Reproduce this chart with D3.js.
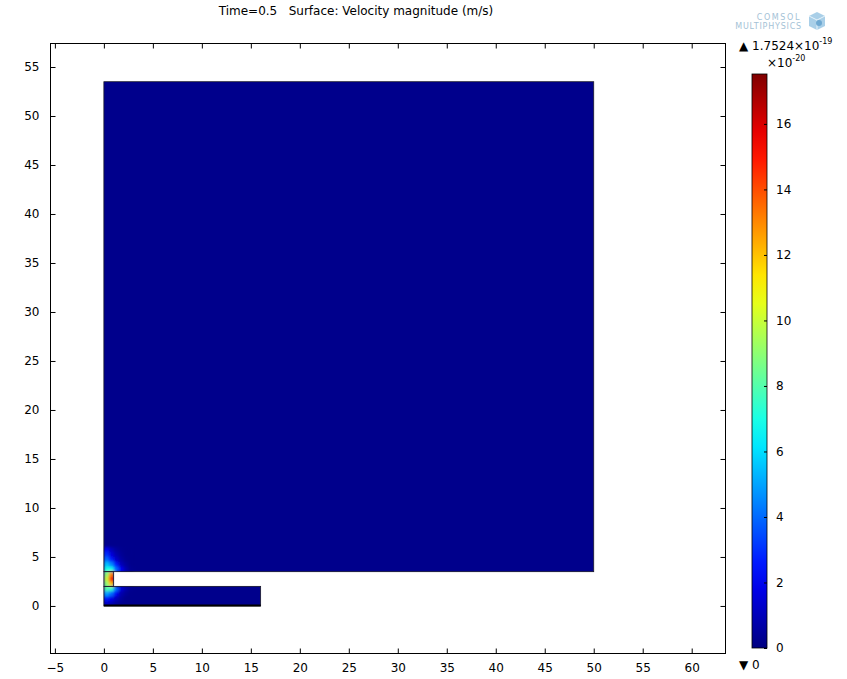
<!DOCTYPE html>
<html><head><meta charset="utf-8">
<script src="https://cdn.jsdelivr.net/npm/d3@7"></script>
<style>
body{margin:0;background:#fff;}
text{font-family:"DejaVu Sans",sans-serif;white-space:pre;}
</style></head>
<body>
<svg id="chart" width="847" height="679"></svg>
<script>
// ---------------- data ----------------
const title = "Time=0.5\u00A0\u00A0\u00A0Surface: Velocity magnitude (m/s)";
const xTicks = [-5,0,5,10,15,20,25,30,35,40,45,50,55,60];
const yTicks = [0,5,10,15,20,25,30,35,40,45,50,55];
const cbTicks = [0,2,4,6,8,10,12,14,16];
const cbMax = 17.524;           // ×10^-20
const cbMaxLabel = "1.7524";
const baseValue = 0.2;          // background velocity (×10^-20)
// geometry (m): [x0, y0, x1, y1]
const domains = [
  [0, 3.5, 50, 53.5],   // chamber
  [0, 2, 1, 3.5],       // connector
  [0, 0, 16, 2]         // channel
];
// hot-spot cells near the junction, 0.5 m cells
const cellSize = 0.5;
const cellX = [0, 0.5, 1, 1.5, 2, 2.5];
const cellRows = [
  {y:5.5, v:[2.0,1.0,0.5,0.3,0.2,0.2]},
  {y:5.0, v:[3.0,1.6,0.8,0.4,0.2,0.2]},
  {y:4.5, v:[4.0,2.6,1.3,0.6,0.3,0.2]},
  {y:4.0, v:[5.5,4.5,2.5,1.0,0.5,0.2]},
  {y:3.5, v:[7.0,7.0,4.0,2.0,0.8,0.3]},
  {y:3.0, v:[9,13,null,null,null,null]},
  {y:2.5, v:[10,15,null,null,null,null]},
  {y:2.0, v:[9,12,null,null,null,null]},
  {y:1.5, v:[8.0,7.5,4.0,1.5,0.7,0.3]},
  {y:1.0, v:[5.0,4.0,2.0,0.8,0.4,0.2]},
  {y:0.5, v:[2.5,1.8,1.0,0.5,0.2,0.2]},
  {y:0.0, v:[1.2,0.9,0.5,0.3,0.2,0.2]}
];

// ---------------- scales ----------------
const svg = d3.select("#chart");
const x = d3.scaleLinear().domain([-5.5, 63.4]).range([50, 725]);
const y = d3.scaleLinear().domain([-4.8, 57.45]).range([653, 43]);
const jet = d3.scaleLinear()
  .domain([0, 1/8, 3/8, 5/8, 7/8, 1].map(f => f*cbMax))
  .range(["#000080","#0000ff","#00ffff","#ffff00","#ff0000","#800000"])
  .clamp(true);

const defs = svg.append("defs");
const clip = defs.append("clipPath").attr("id","geom");
domains.forEach(d => clip.append("rect")
  .attr("x", x(d[0])).attr("y", y(d[3]))
  .attr("width", x(d[2])-x(d[0])).attr("height", y(d[1])-y(d[3])));
defs.append("filter").attr("id","blur").attr("x","-20%").attr("y","-20%").attr("width","140%").attr("height","140%")
  .append("feGaussianBlur").attr("stdDeviation", 1.7);

// field
const field = svg.append("g").attr("clip-path","url(#geom)");
field.append("rect").attr("x", x(-1)).attr("y", y(55)).attr("width", x(52)-x(-1)).attr("height", y(-1)-y(55))
  .attr("fill", jet(baseValue));
const hot = field.append("g").attr("filter","url(#blur)");
const cells = [];
cellRows.forEach(r => r.v.forEach((v,i) => { if (v !== null) cells.push({x:cellX[i], y:r.y, v}); }));
hot.selectAll("rect").data(cells).enter().append("rect")
  .attr("x", d => x(d.x)).attr("y", d => y(d.y + cellSize))
  .attr("width", x(cellSize)-x(0)+0.5).attr("height", y(0)-y(cellSize)+0.5)
  .attr("fill", d => jet(d.v));

// outlines
domains.forEach(d => svg.append("rect")
  .attr("x", x(d[0])).attr("y", y(d[3]))
  .attr("width", x(d[2])-x(d[0])).attr("height", y(d[1])-y(d[3]))
  .attr("fill","none").attr("stroke","#1a1a2a").attr("stroke-width",0.8));
svg.append("line").attr("x1", x(0)).attr("x2", x(16)).attr("y1", y(0)-0.5).attr("y2", y(0)-0.5)
  .attr("stroke","#000").attr("stroke-width",2);

// frame + axes
const tl = 5;
svg.append("rect").attr("x",50.5).attr("y",43.5).attr("width",675).attr("height",610)
  .attr("fill","none").attr("stroke","#000").attr("stroke-width",1);
const axB = svg.append("g").attr("transform","translate(0,653.5)")
  .call(d3.axisBottom(x).tickValues(xTicks).tickSize(-tl).tickPadding(tl+5).tickFormat(d3.format("d")));
const axT = svg.append("g").attr("transform","translate(0,43.5)")
  .call(d3.axisTop(x).tickValues(xTicks).tickSize(-tl).tickFormat(""));
const axL = svg.append("g").attr("transform","translate(50.5,0)")
  .call(d3.axisLeft(y).tickValues(yTicks).tickSize(-tl).tickPadding(tl+6).tickFormat(d3.format("d")));
const axR = svg.append("g").attr("transform","translate(725.5,0)")
  .call(d3.axisRight(y).tickValues(yTicks).tickSize(-tl).tickFormat(""));
[axB,axT,axL,axR].forEach(a => {
  a.select(".domain").remove();
  a.selectAll("text").attr("font-family","DejaVu Sans, sans-serif").attr("font-size",12).attr("fill","#000");
  a.selectAll("line").attr("stroke","#000");
});

// title
svg.append("text").attr("x",356).attr("y",15).attr("text-anchor","middle").attr("font-size",12).text(title);

// colorbar
const cy = d3.scaleLinear().domain([0, cbMax]).range([648, 74]);
const grad = defs.append("linearGradient").attr("id","cbg").attr("x1",0).attr("x2",0).attr("y1",1).attr("y2",0);
d3.range(0, 1.0001, 0.05).forEach(f => grad.append("stop").attr("offset", f).attr("stop-color", jet(f*cbMax)));
svg.append("rect").attr("x",752).attr("y",cy(cbMax)).attr("width",15).attr("height",cy(0)-cy(cbMax))
  .attr("fill","url(#cbg)").attr("stroke","#000").attr("stroke-width",0.8);
const cbAx = svg.append("g").attr("transform","translate(767,0)")
  .call(d3.axisRight(cy).tickValues(cbTicks).tickSize(-3).tickPadding(9).tickFormat(d3.format("d")));
cbAx.select(".domain").remove();
cbAx.selectAll("text").attr("font-size",12).attr("fill","#000");
cbAx.selectAll("line").attr("stroke","#000");

const maxLbl = svg.append("text").attr("x",739).attr("y",50).attr("font-size",12);
maxLbl.append("tspan").text("\u25B2 " + cbMaxLabel + "\u00D710");
maxLbl.append("tspan").attr("dy",-6).attr("font-size",8).text("-19");
const mul = svg.append("text").attr("x",767).attr("y",67).attr("font-size",12);
mul.append("tspan").text("\u00D710");
mul.append("tspan").attr("dy",-6).attr("font-size",8).text("-20");
svg.append("text").attr("x",739).attr("y",669).attr("font-size",12).text("\u25BC 0");

// logo
svg.append("text").attr("x",801).attr("y",20).attr("text-anchor","end").attr("font-size",8)
  .attr("fill","#a4c2d6").attr("letter-spacing",1.6).text("COMSOL");
svg.append("text").attr("x",802).attr("y",29).attr("text-anchor","end").attr("font-size",8)
  .attr("fill","#a4c2d6").attr("letter-spacing",0.8).text("MULTIPHYSICS");
const cube = svg.append("g").attr("transform","translate(817,21)");
cube.append("path").attr("d","M-8,-5 L0,-9 L8,-5 L8,5 L0,9 L-8,5 Z").attr("fill","#a9cfe8");
cube.append("path").attr("d","M-8,-5 L0,-1 L8,-5 M0,-1 L0,9").attr("fill","none").attr("stroke","#e8f3fa").attr("stroke-width",1);
cube.append("circle").attr("cx",2).attr("cy",2).attr("r",3).attr("fill","#6fa9d2");
</script>
</body></html>
